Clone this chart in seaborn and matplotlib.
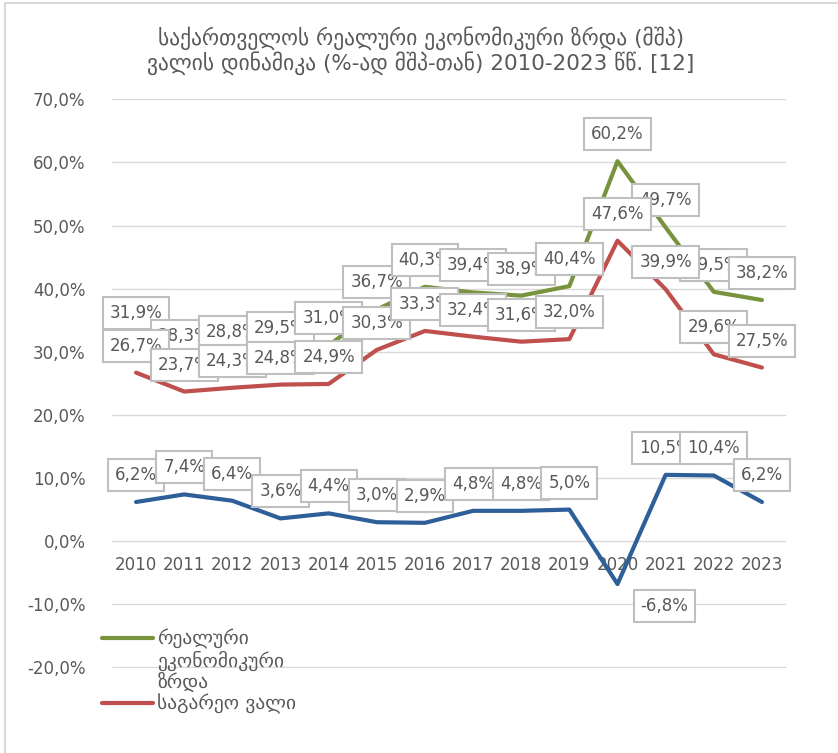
import numpy as np
import pandas as pd
import matplotlib
matplotlib.use('Agg')
import matplotlib.pyplot as plt
from matplotlib.lines import Line2D
from matplotlib.patches import Rectangle
import seaborn as sns

# chart values (% of GDP / growth)
years = list(range(2010, 2024))
growth_real = [31.9, 28.3, 28.8, 29.5, 31.0, 36.7, 40.3, 39.4, 38.9, 40.4, 60.2, 49.7, 39.5, 38.2]
external_debt = [26.7, 23.7, 24.3, 24.8, 24.9, 30.3, 33.3, 32.4, 31.6, 32.0, 47.6, 39.9, 29.6, 27.5]
gdp_growth = [6.2, 7.4, 6.4, 3.6, 4.4, 3.0, 2.9, 4.8, 4.8, 5.0, -6.8, 10.5, 10.4, 6.2]

title_lines = ["საქართველოს რეალური ეკონომიკური ზრდა (მშპ)",
               "ვალის დინამიკა (%-ად მშპ-თან) 2010-2023 წწ. [12]"]
legend_green = ["რეალური", "ეკონომიკური", "ზრდა"]
legend_red = "საგარეო ვალი"

GREEN = '#77933C'
RED = '#C0504D'
BLUE = '#2F5F98'
TXT = '#595959'

sns.set_style('white')
plt.rcParams['font.family'] = ['DejaVu Sans']

df = pd.DataFrame({'year': years, 'growth': growth_real,
                   'debt': external_debt, 'gdp': gdp_growth})

fig = plt.figure(figsize=(8.38, 7.53), dpi=100)
ax = fig.add_axes([112 / 838, 1 - 668 / 753, 674 / 838, 569 / 753])

sns.lineplot(data=df, x='year', y='growth', color=GREEN, lw=3, ax=ax)
sns.lineplot(data=df, x='year', y='debt', color=RED, lw=3, ax=ax)
sns.lineplot(data=df, x='year', y='gdp', color=BLUE, lw=3, ax=ax)

ax.set_xlim(2009.5, 2023.5)
ax.set_ylim(-20.1, 70.05)
ax.set_yticks(np.arange(-20, 71, 10))
ax.set_yticklabels([f"{v:.1f}%".replace('.', ',') for v in np.arange(-20, 71, 10)])
ax.set_xticks(years)
ax.set_xticklabels([str(y) for y in years])
ax.set_xlabel('')
ax.set_ylabel('')
ax.grid(axis='y', color='#D9D9D9', lw=1)
ax.set_axisbelow(True)
for s in ['top', 'right', 'left']:
    ax.spines[s].set_visible(False)
ax.spines['bottom'].set_position(('data', 0))
ax.spines['bottom'].set_visible(False)
ax.tick_params(axis='x', length=0, pad=11, labelsize=12, labelcolor=TXT)
ax.tick_params(axis='y', length=0, pad=19, labelsize=12, labelcolor=TXT)

box = dict(boxstyle='square,pad=0.42', fc='white', ec='#BFBFBF', lw=1.5)


def add_labels(values):
    for x, v in zip(years, values):
        off = (0, 27) if v >= 0 else (47, -22)
        ax.annotate(f"{v:.1f}%".replace('.', ','), (x, v), xytext=off,
                    textcoords='offset pixels', ha='center', va='center',
                    fontsize=12, color=TXT, bbox=box)


add_labels(growth_real)
add_labels(external_debt)
add_labels(gdp_growth)

# legend (the green label wraps over three lines, the handle sits on the first)
blank = Line2D([], [], color='none')
handles = [Line2D([], [], color=GREEN, lw=3), blank, blank,
           Line2D([], [], color=RED, lw=3)]
labels = legend_green + [legend_red]
leg = ax.legend(handles, labels, loc='upper left', frameon=False,
                bbox_to_anchor=(102 / 838, 1 - 629 / 753),
                bbox_transform=fig.transFigure, fontsize=14,
                handlelength=2.6, handletextpad=0.25, labelspacing=0.08,
                borderpad=0, borderaxespad=0)
for t in leg.get_texts():
    t.set_color(TXT)

fig.text(0.502, 1 - 38 / 753, title_lines[0], ha='center', va='center',
         fontsize=15.5, color=TXT)
fig.text(0.502, 1 - 63 / 753, title_lines[1], ha='center', va='center',
         fontsize=15.5, color=TXT)

fig.patches.append(Rectangle((5 / 838, -0.1), 1.2, 1.1 - 3 / 753,
                             transform=fig.transFigure, fill=False,
                             ec='#D9D9D9', lw=1.5))

plt.savefig('out.png', dpi=100)
